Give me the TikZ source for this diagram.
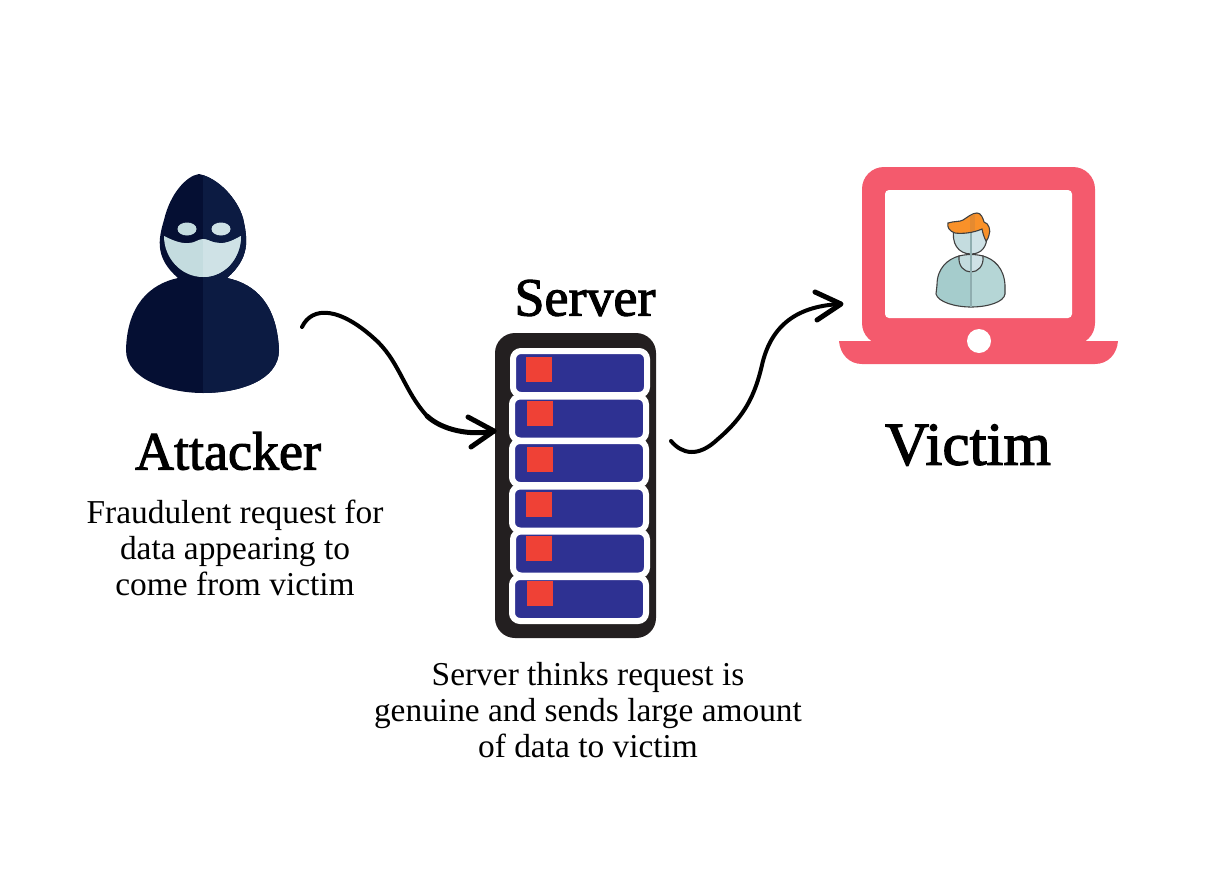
\documentclass[tikz,border=0pt]{standalone}
\usepackage{fontspec}
\setmainfont{Liberation Serif}
\newfontfamily\titlefont[FakeBold=2]{Liberation Serif}
\usetikzlibrary{positioning}
\definecolor{hoodleft}{HTML}{050F33}
\definecolor{hoodright}{HTML}{0C1B42}
\definecolor{maskleft}{HTML}{C4DCDF}
\definecolor{maskright}{HTML}{CFE2E6}
\definecolor{rackcol}{HTML}{231F20}
\definecolor{rowcol}{HTML}{2E3192}
\definecolor{ledcol}{HTML}{EF4136}
\definecolor{laptopcol}{HTML}{F45A6D}
\definecolor{hairleft}{HTML}{F99129}
\definecolor{hairmid}{HTML}{E58A30}
\definecolor{shirtleft}{HTML}{A5CCCC}
\definecolor{shirtright}{HTML}{B5D6D6}
\definecolor{stripecol}{HTML}{8FADAF}
\tikzset{
  title/.style={font=\fontsize{27}{30}\titlefont,inner sep=0pt},
  caption/.style={font=\fontsize{16.7}{18}\selectfont,align=center,inner sep=0pt},
  rack/.style={fill=rackcol,rounded corners=10pt,inner sep=0pt,minimum width=80.5pt,minimum height=152.5pt},
  rowbox/.style={fill=rowcol,draw=white,line width=3pt,rounded corners=4pt,inner sep=0pt,minimum width=67pt,minimum height=22pt},
  led/.style={fill=ledcol,inner sep=0pt,minimum width=13pt,minimum height=12.5pt},
  curve/.style={line width=2pt,line cap=round,line join=round},
  curvehead/.style={line width=2.5pt,line cap=round,line join=round},
  outline/.style={draw=black!75,line width=0.55pt},
}
\newcommand{\hoodpath}{(199,174) .. controls (186,176) and (170,194) .. (164,220)
  .. controls (158,240) and (155,258) .. (178,278)
  .. controls (150,284) and (127,305) .. (126,350)
  .. controls (126,380) and (170,393) .. (203,393)
  .. controls (240,393) and (279,380) .. (279,350)
  .. controls (277,305) and (256,284) .. (227,278)
  .. controls (250,258) and (248,240) .. (243,218)
  .. controls (237,198) and (218,178) .. (199,174) -- cycle}
\newcommand{\maskpath}{(164,236) .. controls (172,240) and (181,244) .. (189,243)
  .. controls (195,243) and (198,239) .. (203,239)
  .. controls (208,239) and (212,243) .. (219,243)
  .. controls (226,244) and (234,240) .. (241,236)
  .. controls (241,258) and (225,277) .. (203,277)
  .. controls (181,277) and (164,258) .. (164,236) -- cycle}
\newcommand{\shirtpath}{(959,256) .. controls (948,259) and (937,268) .. (937,285) -- (936,294)
  .. controls (938,302) and (955,307) .. (971,307)
  .. controls (988,307) and (1004,302) .. (1005,294) -- (1005,285)
  .. controls (1004,268) and (994,259) .. (983,256) -- cycle}
\newcommand{\headpath}{(954,228) .. controls (951,243) and (958,254) .. (971,254)
  .. controls (982,254) and (987,246) .. (987,236) -- (984,226) -- (962,230) -- cycle}
\newcommand{\neckpath}{(959,256) .. controls (958,266) and (964,272) .. (971,272)
  .. controls (978,272) and (984,266) .. (983,256) .. controls (975,254) and (967,254) .. (959,256) -- cycle}
\newcommand{\hairpath}{(948,223) .. controls (954,221) and (960,222) .. (963,220)
  .. controls (968,217) and (972,213) .. (977,213)
  .. controls (981,213) and (983,218) .. (984,222)
  .. controls (989,223) and (991,231) .. (989,235)
  .. controls (988,239) and (987,240) .. (986,241)
  .. controls (984,237) and (983,234) .. (982,229)
  .. controls (973,233) and (962,234) .. (955,233)
  .. controls (949,231) and (947,227) .. (948,223) -- cycle}

\begin{document}
\begin{tikzpicture}[x=0.5pt,y=-0.5pt]
  \useasboundingbox (0,0) rectangle (1206,873);
  % Attacker
  \fill[hoodleft] \hoodpath;
  \begin{scope}
    \clip (203,160) rectangle (300,400);
    \fill[hoodright] \hoodpath;
  \end{scope}
  \fill[maskleft] \maskpath;
  \begin{scope}
    \clip (203,160) rectangle (300,400);
    \fill[maskright] \maskpath;
  \end{scope}
  \fill[maskleft] (187,229) ellipse (9.5 and 6.5);
  \fill[maskright] (221,229) ellipse (9.5 and 6.5);
  \node[title] (attacker) at (228,451) {Attacker};
  \node[caption] (attackertext) at (235,548) {Fraudulent request for\\data appearing to\\come from victim};
  % Server
  \node[title] (servertitle) at (585,298) {Server};
  \node[rack] (server) at (575.5,485.5) {};
  \foreach \name/\xa/\ya/\xb/\yb in {a/580/373/539/369.5,b/579/418.5/540/413.5,c/579/463/540/459.5,d/579/508.5/539/504.5,e/580/553.5/539/548.5,f/579/599/540/593.5}{
    \node[rowbox] (row\name) at (\xa,\ya) {};
    \node[led] (led\name) at (\xb,\yb) {};
  }
  \node[caption] (servertext) at (588,710) {Server thinks request is\\genuine and sends large amount\\of data to victim};
  % Victim
  \fill[laptopcol,rounded corners=11pt] (862,167) rectangle (1095,345);
  \fill[laptopcol] (839,341) -- (1118,341) .. controls (1117,354) and (1108,364) .. (1095,364)
    -- (862,364) .. controls (849,364) and (840,354) .. (839,341) -- cycle;
  \fill[white,rounded corners=2pt] (885,190) rectangle (1072,318);
  \fill[white] (979,341) circle (12);
  \begin{scope}
    \fill[shirtleft] \shirtpath;
    \begin{scope}
      \clip (971,200) rectangle (1020,320);
      \fill[shirtright] \shirtpath;
    \end{scope}
    \draw[outline] \shirtpath;
    \fill[maskleft] \headpath;
    \begin{scope}
      \clip (971,200) rectangle (1020,320);
      \fill[maskright] \headpath;
    \end{scope}
    \draw[outline] \headpath;
    \fill[maskleft] \neckpath;
    \begin{scope}
      \clip (971,200) rectangle (1020,320);
      \fill[maskright] \neckpath;
    \end{scope}
    \draw[outline] \neckpath;
    \draw[stripecol,line width=0.8pt] (971,232) -- (971,307);
    \fill[hairleft] \hairpath;
    \fill[hairmid] (970,215) rectangle (975,232);
    \draw[outline] \hairpath;
  \end{scope}
  \node[title,font=\fontsize{30.5}{33}\titlefont] (victim) at (968,445) {Victim};
  % Connectors
  \coordinate (attackerout) at (302,327);
  \coordinate (serverin) at (494,431);
  \coordinate (serverout) at (671,441);
  \coordinate (victimin) at (841,304);
  \draw[curve] (attackerout) .. controls (312,306) and (340,306) .. (378,342)
    .. controls (400,364) and (405,392) .. (427,416);
  \draw[curvehead] (427,416) .. controls (442,430) and (470,436) .. (serverin);
  \draw[curvehead] (468,417) -- (serverin) -- (471,447);
  \draw[curve] (serverout) .. controls (682,454) and (698,458) .. (718,439)
    .. controls (745,416) and (755,395) .. (762,365)
    .. controls (770,330) and (792,306) .. (victimin);
  \draw[curvehead] (815,292) -- (victimin) -- (817,320);
\end{tikzpicture}
\end{document}
